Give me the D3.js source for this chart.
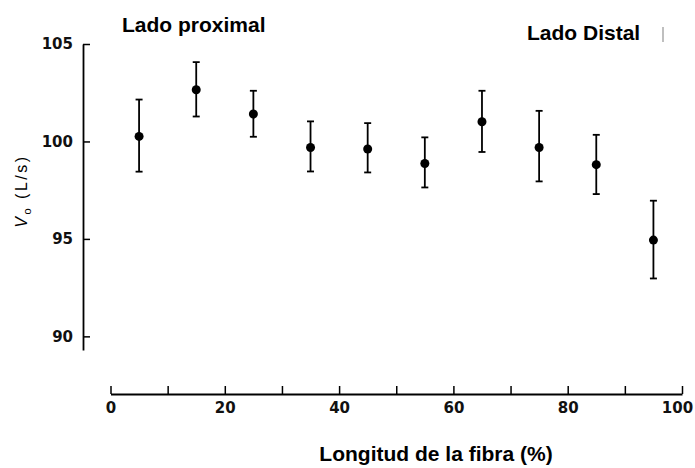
<!DOCTYPE html>
<html>
<head>
<meta charset="utf-8">
<script src="https://cdn.jsdelivr.net/npm/d3@7"></script>
<style>
  body { margin: 0; background: #fff; }
  .title { font-family: "Liberation Sans", Arial, sans-serif; font-weight: bold; font-size: 21px; fill: #000; }
  .tick text { font-family: "DejaVu Sans", sans-serif; font-weight: bold; font-size: 15px; fill: #111; }
</style>
</head>
<body>
<div id="vis"></div>
<script>
// Frame
const FRAME_WIDTH = 695;
const FRAME_HEIGHT = 468;

// Data
const fiberPos = [5, 15, 25, 35, 45, 55, 65, 75, 85, 95];
const meanVo   = [100.26, 102.65, 101.41, 99.69, 99.61, 98.87, 101.01, 99.69, 98.81, 94.94];
const upperVo  = [102.15, 104.07, 102.6, 101.03, 100.94, 100.21, 102.6, 101.57, 100.34, 96.96];
const lowerVo  = [98.45, 101.28, 100.24, 98.46, 98.41, 97.64, 99.46, 97.95, 97.3, 92.97];

const xTicks = [0, 10, 20, 30, 40, 50, 60, 70, 80, 90, 100];
const xLabels = [0, 20, 40, 60, 80, 100];
const yTicks = [90, 95, 100, 105];

const FRAME = d3.select("#vis")
                .append("svg")
                  .attr("width", FRAME_WIDTH)
                  .attr("height", FRAME_HEIGHT);

// scales
const X_SCALE = d3.scaleLinear()
                  .domain([0, 100])
                  .range([110.5, 682]);

const Y_SCALE = d3.scaleLinear()
                  .domain([89.3, 105])
                  .range([350, 44]);

// y axis, ticks point inward
const yAxis = FRAME.append("g")
      .attr("transform", "translate(83,0)")
      .call(d3.axisLeft(Y_SCALE)
              .tickValues(yTicks)
              .tickSizeInner(-7)
              .tickSizeOuter(0)
              .tickPadding(10));
yAxis.select(".domain").attr("stroke-width", 1.8);
yAxis.selectAll(".tick line").attr("stroke-width", 1.5);

// x axis
const xAxis = FRAME.append("g")
      .attr("transform", "translate(0,394)")
      .call(d3.axisBottom(X_SCALE)
              .tickValues(xTicks)
              .tickFormat(d => xLabels.includes(d) ? d : "")
              .tickSizeInner(-8)
              .tickSizeOuter(0)
              .tickPadding(8));
xAxis.select(".domain").attr("stroke-width", 1.8);
xAxis.selectAll(".tick line").attr("stroke-width", 1.5);
// last label sits against the right edge, nudge it in
xAxis.selectAll(".tick text").filter(d => d === 100).attr("dx", -5);

// error bars
const pts = fiberPos.map((x, i) => ({x: x, m: meanVo[i], hi: upperVo[i], lo: lowerVo[i]}));

FRAME.selectAll(".err")
     .data(pts)
     .enter()
     .append("line")
       .attr("x1", d => X_SCALE(d.x))
       .attr("x2", d => X_SCALE(d.x))
       .attr("y1", d => Y_SCALE(d.hi))
       .attr("y2", d => Y_SCALE(d.lo))
       .attr("stroke", "#000")
       .attr("stroke-width", 1.8);

["hi", "lo"].forEach(k => {
  FRAME.selectAll(".cap-" + k)
       .data(pts)
       .enter()
       .append("line")
         .attr("x1", d => X_SCALE(d.x) - 3.5)
         .attr("x2", d => X_SCALE(d.x) + 3.5)
         .attr("y1", d => Y_SCALE(d[k]))
         .attr("y2", d => Y_SCALE(d[k]))
         .attr("stroke", "#000")
         .attr("stroke-width", 1.8);
});

FRAME.selectAll(".pt")
     .data(pts)
     .enter()
     .append("circle")
       .attr("cx", d => X_SCALE(d.x))
       .attr("cy", d => Y_SCALE(d.m))
       .attr("r", 4.5)
       .attr("fill", "#000");

// texts
FRAME.append("text").attr("class", "title")
     .attr("x", 122).attr("y", 32)
     .text("Lado proximal");

FRAME.append("text").attr("class", "title")
     .attr("x", 527).attr("y", 40)
     .text("Lado Distal");

FRAME.append("line")
     .attr("x1", 663).attr("x2", 663)
     .attr("y1", 27).attr("y2", 42)
     .attr("stroke", "#aaa")
     .attr("stroke-width", 1.5);

FRAME.append("text").attr("class", "title")
     .attr("x", 436).attr("y", 461)
     .attr("text-anchor", "middle")
     .text("Longitud de la fibra (%)");

const yLab = FRAME.append("text")
     .attr("transform", "translate(27,191) rotate(-90)")
     .attr("text-anchor", "middle")
     .attr("font-family", "Liberation Sans, Arial, sans-serif")
     .attr("font-size", 16)
     .attr("letter-spacing", 2.5)
     .attr("fill", "#000");
yLab.append("tspan").attr("font-style", "italic").text("V");
yLab.append("tspan").attr("font-size", 11).attr("dy", 4).text("o");
yLab.append("tspan").attr("dy", -4).text(" (L/s)");
</script>
</body>
</html>
